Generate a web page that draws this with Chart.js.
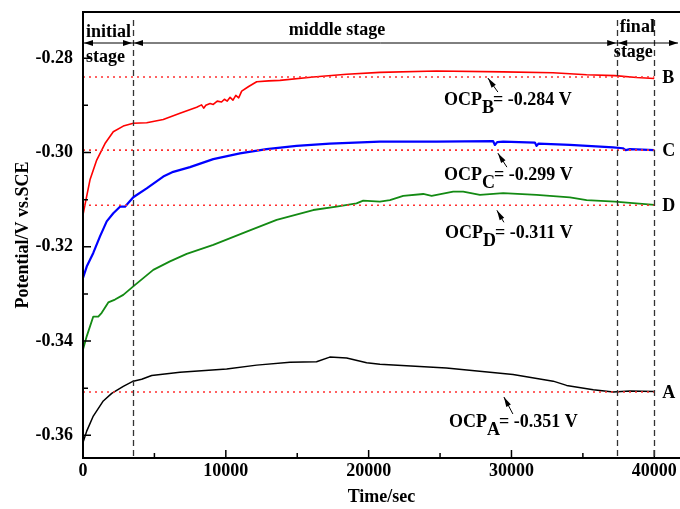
<!DOCTYPE html>
<html>
<head>
<meta charset="utf-8">
<script src="https://cdn.jsdelivr.net/npm/chart.js@4.4.1/dist/chart.umd.min.js"></script>
<style>
  html, body { margin: 0; padding: 0; background: #fff; }
  #wrap { width: 680px; height: 509px; }
</style>
</head>
<body>
<div id="wrap"><canvas id="ocpChart" width="680" height="509"></canvas></div>
<script>
// OCP curves: time in s, potential in V vs. SCE
const timeA = [0, 260, 720, 1420, 2010, 2820, 3520, 4110, 4810, 6790, 10060, 12160, 14490, 16350, 17280, 18460, 19860, 20790, 25440, 30110, 32920, 33860, 35730, 37120, 38290, 40000];
const potA  = [-0.3615, -0.3591, -0.3559, -0.3527, -0.3511, -0.3496, -0.3485, -0.3481, -0.3473, -0.3466, -0.3459, -0.3451, -0.3445, -0.3444, -0.3434, -0.3436, -0.3446, -0.3449, -0.3457, -0.3471, -0.3485, -0.3494, -0.3503, -0.3508, -0.3506, -0.3507];

const timeB = [0, 250, 490, 960, 1540, 2120, 2820, 3520, 4460, 5620, 6790, 7960, 8300, 8450, 8600, 8900, 9120, 9400, 9700, 9900, 10100, 10300, 10500, 10700, 10900, 11110, 11600, 12160, 13000, 13790, 16120, 18460, 20790, 24760, 29420, 32900, 35260, 37240, 38760, 40000];
const potB  = [-0.3132, -0.3094, -0.3058, -0.3016, -0.2981, -0.2956, -0.2944, -0.2938, -0.2937, -0.2930, -0.2917, -0.2904, -0.2899, -0.2906, -0.2900, -0.2896, -0.2898, -0.2891, -0.2893, -0.2887, -0.2891, -0.2883, -0.2889, -0.2879, -0.2884, -0.2870, -0.2860, -0.2850, -0.2848, -0.2847, -0.2840, -0.2834, -0.2830, -0.2827, -0.2829, -0.2831, -0.2835, -0.2837, -0.2841, -0.2843];

const timeC = [0, 260, 720, 1190, 1660, 2120, 2590, 2940, 3520, 4460, 5620, 6320, 7490, 9120, 10990, 12850, 14950, 17280, 20790, 24760, 28720, 28840, 29000, 29420, 31640, 31760, 31900, 34090, 37120, 37800, 38000, 38290, 40000];
const potC  = [-0.3266, -0.3242, -0.3213, -0.3178, -0.3146, -0.3129, -0.3115, -0.3115, -0.3095, -0.3076, -0.3051, -0.3041, -0.3031, -0.3014, -0.3002, -0.2993, -0.2986, -0.2981, -0.2977, -0.2977, -0.2976, -0.2984, -0.2978, -0.2977, -0.2979, -0.2986, -0.2981, -0.2984, -0.2989, -0.2991, -0.2995, -0.2993, -0.2995];

const timeD = [0, 260, 720, 1070, 1310, 1770, 2240, 2820, 3520, 4920, 6090, 7260, 9120, 11460, 13560, 16120, 17750, 19150, 19620, 20790, 21490, 22420, 23820, 24410, 25920, 26620, 27790, 29420, 31760, 34090, 35260, 37240, 40000];
const potD  = [-0.3418, -0.3390, -0.3348, -0.3348, -0.3340, -0.3318, -0.3312, -0.3302, -0.3284, -0.3249, -0.3231, -0.3215, -0.3196, -0.3168, -0.3143, -0.3122, -0.3115, -0.3108, -0.3102, -0.3104, -0.3101, -0.3092, -0.3088, -0.3092, -0.3083, -0.3083, -0.3090, -0.3086, -0.3090, -0.3095, -0.3101, -0.3104, -0.3111];

// steady-state OCP values (dotted lines) and their labels
const ocpNames  = ['A', 'B', 'C', 'D'];
const ocpLabels = ['-0.351', '-0.284', '-0.299', '-0.311'];
const ocpLevels = [-0.3508, -0.2840, -0.2995, -0.3112];

const stageBounds = [3500, 37400, 40000];
const xTicks = [0, 10000, 20000, 30000, 40000];
const xMinor = [5000, 15000, 25000, 35000];
const yTicks = [-0.36, -0.34, -0.32, -0.30, -0.28];
const yMinor = [-0.35, -0.33, -0.31, -0.29];

const FONT = "'Liberation Serif', 'Times New Roman', serif";

function pts(xs, ys) {
  return xs.map((x, i) => ({ x: x, y: ys[i] }));
}

const curveColors = { A: '#000000', B: '#ff0000', C: '#0000ff', D: '#138a13' };
const curveWidths = { A: 1.5, B: 1.6, C: 2.2, D: 1.8 };

const datasets = [];
// dotted reference lines first so the curves sit on top
ocpNames.forEach((n, i) => {
  datasets.push({
    data: [{ x: 0, y: ocpLevels[i] }, { x: stageBounds[2], y: ocpLevels[i] }],
    borderColor: '#ff3030',
    borderWidth: 1.6,
    borderDash: [2, 4],
    pointRadius: 0
  });
});
[['A', timeA, potA], ['B', timeB, potB], ['C', timeC, potC], ['D', timeD, potD]].forEach(s => {
  datasets.push({
    label: s[0],
    data: pts(s[1], s[2]),
    borderColor: curveColors[s[0]],
    borderWidth: curveWidths[s[0]],
    pointRadius: 0,
    tension: 0,
    borderJoinStyle: 'round'
  });
});

// annotation placement: text start (s), baseline offset below the dotted line (px),
// arrow tail/head in seconds and px offsets from the line
const ocpNotes = {
  A: { tx: 25620, dy: 35, x1: 30100, y1: 22, x2: 29470, y2: 5 },
  B: { tx: 25270, dy: 28, x1: 29050, y1: 15, x2: 28350, y2: 1 },
  C: { tx: 25270, dy: 30, x1: 29680, y1: 17, x2: 29050, y2: 3 },
  D: { tx: 25340, dy: 33, x1: 29470, y1: 17, x2: 28980, y2: 5 }
};

function arrowHead(ctx, x1, y1, x2, y2, len, half) {
  const a = Math.atan2(y2 - y1, x2 - x1);
  ctx.beginPath();
  ctx.moveTo(x2, y2);
  ctx.lineTo(x2 - len * Math.cos(a) + half * Math.sin(a), y2 - len * Math.sin(a) - half * Math.cos(a));
  ctx.lineTo(x2 - len * Math.cos(a) - half * Math.sin(a), y2 - len * Math.sin(a) + half * Math.cos(a));
  ctx.closePath();
  ctx.fill();
}

const decor = {
  id: 'decor',
  afterDraw(chart) {
    const ctx = chart.ctx;
    const xs = chart.scales.x, ys = chart.scales.y;
    const L = chart.chartArea.left, R = chart.chartArea.right;
    const T = chart.chartArea.top, B = chart.chartArea.bottom;
    ctx.save();
    ctx.fillStyle = '#000';
    ctx.strokeStyle = '#000';

    // frame: left, bottom, top
    ctx.lineWidth = 2;
    ctx.beginPath();
    ctx.moveTo(R + 2, T); ctx.lineTo(L, T); ctx.lineTo(L, B); ctx.lineTo(R + 2, B);
    ctx.stroke();

    // inward ticks
    ctx.lineWidth = 1.5;
    ctx.beginPath();
    xTicks.forEach(v => { const p = xs.getPixelForValue(v); ctx.moveTo(p, B); ctx.lineTo(p, B - 8); });
    xMinor.forEach(v => { const p = xs.getPixelForValue(v); ctx.moveTo(p, B); ctx.lineTo(p, B - 5); });
    yTicks.forEach(v => { const p = ys.getPixelForValue(v); ctx.moveTo(L, p); ctx.lineTo(L + 8, p); });
    yMinor.forEach(v => { const p = ys.getPixelForValue(v); ctx.moveTo(L, p); ctx.lineTo(L + 5, p); });
    ctx.stroke();

    // stage boundaries
    ctx.strokeStyle = '#333';
    ctx.lineWidth = 1.3;
    ctx.setLineDash([6, 4]);
    stageBounds.forEach(v => {
      const p = Math.round(xs.getPixelForValue(v)) + 0.5;
      ctx.beginPath(); ctx.moveTo(p, 20); ctx.lineTo(p, B); ctx.stroke();
    });
    ctx.setLineDash([]);

    // stage arrows along the top
    const ay = 43;
    const p0 = L, p1 = xs.getPixelForValue(stageBounds[0]), p2 = xs.getPixelForValue(stageBounds[1]);
    const pEnd = R - 2;
    ctx.strokeStyle = '#000';
    ctx.lineWidth = 1;
    ctx.beginPath(); ctx.moveTo(p0, ay); ctx.lineTo(pEnd, ay); ctx.stroke();
    arrowHead(ctx, p0 + 10, ay, p0 + 1, ay, 9, 3);
    arrowHead(ctx, p1 - 10, ay, p1 - 1, ay, 9, 3);
    arrowHead(ctx, p1 + 10, ay, p1 + 1, ay, 9, 3);
    arrowHead(ctx, p2 - 10, ay, p2 - 1, ay, 9, 3);
    arrowHead(ctx, p2 + 10, ay, p2 + 1, ay, 9, 3);
    arrowHead(ctx, pEnd - 10, ay, pEnd, ay, 9, 3);

    ctx.font = 'bold 18px ' + FONT;
    ctx.textBaseline = 'alphabetic';
    ctx.textAlign = 'left';
    ctx.fillText('initial', xs.getPixelForValue(210), 37);
    ctx.fillText('stage', xs.getPixelForValue(210), 62);
    ctx.fillText('final', xs.getPixelForValue(37590), 32);
    ctx.fillText('stage', xs.getPixelForValue(37170), 57);
    ctx.textAlign = 'center';
    ctx.fillText('middle stage', xs.getPixelForValue(17780), 35);

    // OCP annotations
    ocpNames.forEach((n, i) => {
      const ly = ys.getPixelForValue(ocpLevels[i]);
      const note = ocpNotes[n];
      const tx = xs.getPixelForValue(note.tx), ty = ly + note.dy;
      ctx.textAlign = 'left';
      ctx.font = 'bold 18px ' + FONT;
      ctx.fillText('OCP', tx, ty);
      const w1 = ctx.measureText('OCP').width;
      ctx.fillText(n, tx + w1, ty + 8);
      const w2 = ctx.measureText(n).width;
      ctx.fillText('= ' + ocpLabels[i] + ' V', tx + w1 + w2 - 1, ty);

      const ax1 = xs.getPixelForValue(note.x1), ay1 = ly + note.y1;
      const ax2 = xs.getPixelForValue(note.x2), ay2 = ly + note.y2;
      ctx.lineWidth = 1;
      ctx.beginPath(); ctx.moveTo(ax1, ay1); ctx.lineTo(ax2, ay2); ctx.stroke();
      arrowHead(ctx, ax1, ay1, ax2, ay2, 10, 2.6);

      ctx.textBaseline = 'middle';
      ctx.fillText(n, xs.getPixelForValue(stageBounds[2]) + 8, ly + 1);
      ctx.textBaseline = 'alphabetic';
    });
    ctx.restore();
  }
};

const config = {
  type: 'line',
  data: { datasets: datasets },
  options: {
    responsive: false,
    animation: false,
    events: [],
    layout: { padding: { top: 12, right: 0, left: 0, bottom: 0 } },
    plugins: { legend: { display: false }, tooltip: { enabled: false } },
    scales: {
      x: {
        type: 'linear',
        min: 0,
        max: 41800,
        grid: { display: false, drawTicks: false },
        border: { display: false },
        afterBuildTicks: s => { s.ticks = xTicks.map(v => ({ value: v })); },
        afterFit: s => { s.height = 51; s.paddingLeft = 0; s.paddingRight = 0; },
        ticks: {
          padding: 3,
          color: '#000',
          maxRotation: 0,
          font: { family: FONT, size: 18, weight: 'bold' },
          callback: v => String(v)
        },
        title: {
          display: true,
          text: 'Time/sec',
          color: '#000',
          padding: 1,
          font: { family: FONT, size: 18, weight: 'bold' }
        }
      },
      y: {
        min: -0.3648,
        max: -0.2702,
        grid: { display: false, drawTicks: false },
        border: { display: false },
        afterBuildTicks: s => { s.ticks = yTicks.map(v => ({ value: v })); },
        afterFit: s => { s.width = 83; s.paddingTop = 0; s.paddingBottom = 0; },
        ticks: {
          padding: 10,
          color: '#000',
          font: { family: FONT, size: 18, weight: 'bold' },
          callback: v => v.toFixed(2)
        },
        title: {
          display: true,
          text: 'Potential/V vs.SCE',
          color: '#000',
          padding: 13,
          font: { family: FONT, size: 18, weight: 'bold' }
        }
      }
    }
  },
  plugins: [decor]
};

const myChart = new Chart(document.getElementById('ocpChart'), config);
</script>
</body>
</html>
